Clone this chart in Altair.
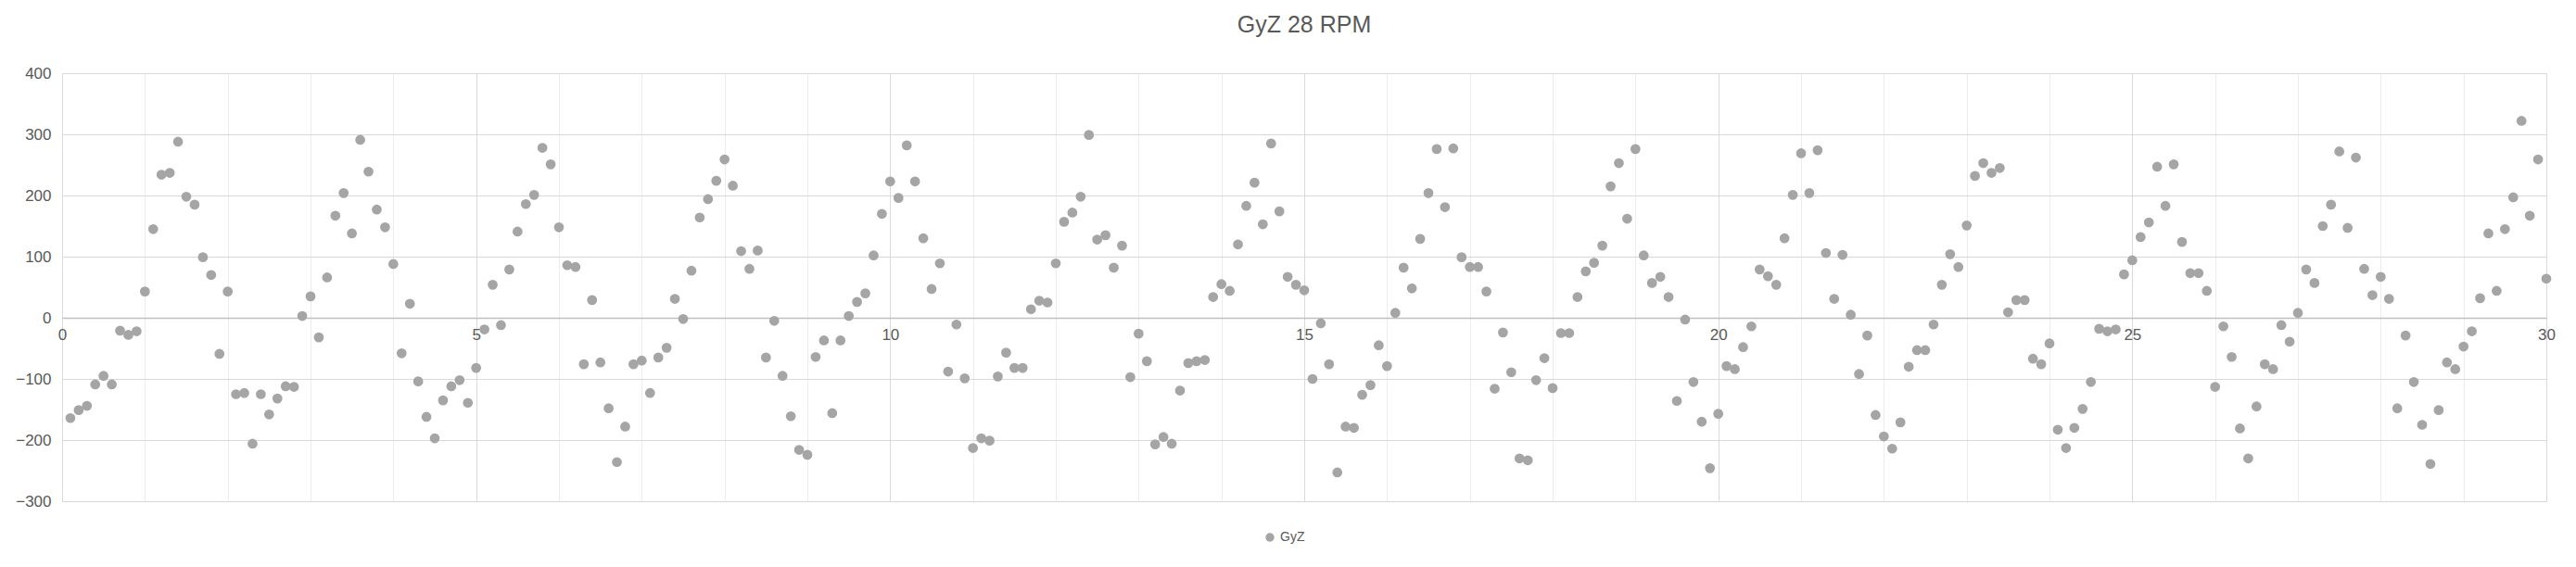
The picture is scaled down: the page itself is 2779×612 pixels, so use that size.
import altair as alt
import pandas as pd

# GyZ readings, one every 0.1 s from 0.1 to 30.0
gyz = [
    -164, -151, -144, -109, -95, -109, -21, -28, -22, 43,
    145, 234, 237, 288, 198, 185, 99, 70, -59, 43,
    -125, -123, -206, -125, -158, -132, -112, -113, 3, 35,
    -32, 66, 167, 204, 138, 291, 239, 177, 148, 88,
    -58, 23, -104, -162, -197, -135, -112, -102, -139, -82,
    -19, 54, -12, 79, 141, 186, 201, 278, 251, 148,
    86, 83, -76, 29, -73, -148, -236, -178, -76, -70,
    -123, -65, -49, 31, -2, 77, 164, 194, 224, 259,
    216, 109, 80, 110, -65, -5, -95, -161, -216, -224,
    -64, -37, -156, -37, 3, 26, 40, 102, 170, 223,
    196, 282, 223, 130, 47, 89, -88, -11, -99, -213,
    -197, -201, -96, -57, -82, -82, 14, 28, 25, 89,
    157, 172, 198, 299, 128, 135, 82, 118, -97, -26,
    -71, -207, -195, -206, -119, -74, -71, -69, 34, 55,
    44, 120, 183, 221, 153, 285, 174, 67, 54, 45,
    -100, -9, -76, -253, -178, -180, -126, -110, -45, -79,
    8, 82, 48, 129, 204, 276, 181, 277, 99, 83,
    83, 43, -116, -24, -89, -230, -233, -102, -66, -115,
    -25, -25, 34, 76, 90, 118, 215, 253, 162, 276,
    102, 57, 67, 34, -136, -3, -105, -170, -246, -157,
    -79, -84, -48, -14, 79, 68, 54, 130, 201, 269,
    204, 274, 106, 31, 103, 5, -92, -29, -159, -194,
    -214, -171, -80, -53, -53, -11, 54, 104, 83, 151,
    232, 253, 237, 245, 9, 29, 29, -67, -76, -42,
    -183, -213, -180, -149, -105, -18, -22, -19, 71, 94,
    132, 156, 247, 183, 251, 124, 73, 73, 44, -113,
    -14, -64, -181, -230, -145, -76, -84, -12, -39, 8,
    79, 57, 150, 185, 272, 147, 262, 80, 37, 67,
    31, -148, -29, -105, -175, -239, -151, -73, -84, -47,
    -22, 32, 138, 44, 145, 197, 322, 167, 259, 64,
]
times = [round((i + 1) / 10, 1) for i in range(len(gyz))]

df = pd.DataFrame({"t": times, "GyZ": gyz, "series": "GyZ"})

font = "Liberation Sans"

chart = (
    alt.Chart(df)
    .mark_circle(size=115, opacity=1)
    .encode(
        x=alt.X(
            "t:Q",
            scale=alt.Scale(domain=[0, 30], nice=False),
            axis=alt.Axis(
                title=None,
                values=list(range(0, 31)),
                labelExpr="datum.value % 5 == 0 ? datum.label : ''",
                offset=-198,
                ticks=False,
                labelFlush=False,
                domainColor="#BFBFBF",
                domainWidth=1.5,
                gridColor={"expr": "datum.value % 5 == 0 ? '#D9D9D9' : '#EDEDED'"},
                labelFontSize=17,
                labelColor="#595959",
                labelPadding=10,
            ),
        ),
        y=alt.Y(
            "GyZ:Q",
            scale=alt.Scale(domain=[-300, 400], nice=False),
            axis=alt.Axis(
                title=None,
                values=list(range(-300, 401, 100)),
                ticks=False,
                domain=False,
                gridColor="#D9D9D9",
                labelFontSize=17,
                labelColor="#595959",
                labelPadding=12,
            ),
        ),
        color=alt.Color(
            "series:N",
            scale=alt.Scale(range=["#A5A5A5"]),
            legend=alt.Legend(
                title=None,
                orient="none",
                legendX=1296,
                legendY=494,
                symbolType="circle",
                symbolSize=90,
                labelFontSize=14,
                labelColor="#595959",
            ),
        ),
    )
    .properties(
        width=2680,
        height=462,
        autosize=alt.AutoSizeParams(type="none"),
        padding={"left": 59, "top": 71, "right": 20, "bottom": 60},
        title=alt.TitleParams(
            "GyZ 28 RPM", fontSize=25, fontWeight="normal", color="#595959",
            anchor="middle", offset=30, font=font,
        ),
    )
    .configure_view(stroke="#D9D9D9")
    .configure(font=font)
)

chart.save("out.html", embed_options={"renderer": "svg", "actions": False})
